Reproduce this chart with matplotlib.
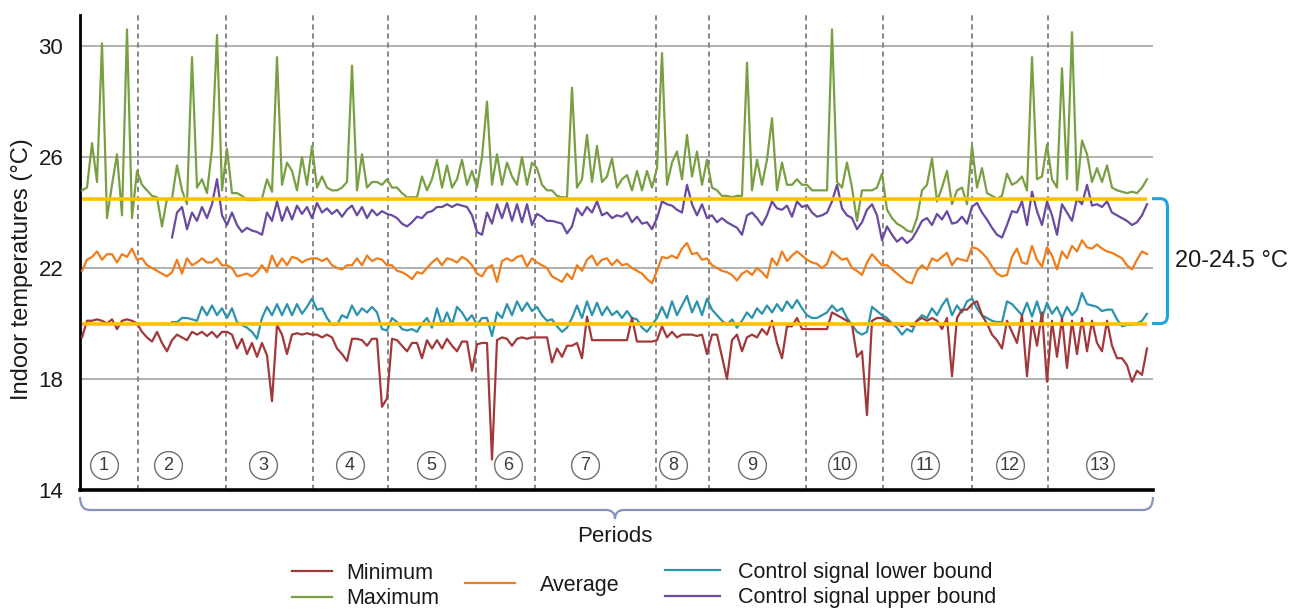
import numpy as np
import matplotlib
matplotlib.use("Agg")
import matplotlib.pyplot as plt
from matplotlib.path import Path
from matplotlib.patches import PathPatch
import matplotlib.transforms as mtransforms

plt.rcParams['font.family'] = ['Liberation Sans', 'DejaVu Sans']

nan = np.nan

# ---------------- data (one sample every ~ equal time step) ----------------
t_max = [24.8, 24.9, 26.5, 25.1, 30.1, 23.8, 25.0, 26.1, 23.9, 30.6, 23.8, 25.5,
         25.0, 24.8, 24.6, 24.55, 23.5, 24.5, 24.5, 25.7, 24.8, 24.3, 29.6, 24.9, 25.2, 24.7, 26.3, 30.4, 24.8,
         26.3, 24.7, 24.7, 24.6, 24.45, 24.45, 24.45, 24.5, 25.2, 24.75, 29.6, 25.0, 25.8, 25.5, 24.8, 26.0, 25.0, 26.4,
         24.9, 25.3, 24.9, 24.8, 24.8, 24.9, 25.1, 29.3, 24.8, 26.1, 24.9, 25.1, 25.1, 25.0, 25.2,
         24.9, 24.9, 24.7, 24.55, 24.55, 24.55, 25.3, 24.8, 25.2, 25.9, 24.9, 25.7, 24.9, 25.2, 25.9, 25.0, 25.5,
         24.9, 26.0, 28.0, 25.0, 26.1, 25.0, 25.8, 25.3, 25.0, 26.0, 25.0, 25.8,
         25.6, 25.0, 24.8, 24.8, 24.6, 24.55, 24.55, 28.5, 24.9, 25.2, 26.8, 25.1, 26.4, 25.1, 25.3, 25.95,
         24.9, 25.2, 25.35, 24.8, 25.5, 24.8, 25.5, 24.9,
         25.6, 29.75, 25.0, 25.8, 26.2, 25.2, 26.8, 25.3, 26.2, 25.0, 25.9,
         24.9, 24.8, 24.6, 24.6, 24.55, 24.6, 24.6, 29.4, 24.8, 25.9, 25.0, 25.9, 27.4, 24.8, 25.8, 25.0, 25.0, 25.2, 25.0,
         25.0, 24.8, 24.8, 24.8, 24.8, 30.6, 25.1, 24.9, 25.8, 24.9, 23.7, 24.8, 24.8, 24.8, 24.9, 25.4,
         24.1, 23.8, 23.6, 23.5, 23.35, 23.3, 23.8, 24.8, 25.0, 25.95, 24.4, 24.9, 25.5, 24.3, 24.8, 24.9, 24.3,
         26.4, 24.9, 25.6, 24.7, 24.6, 24.5, 24.6, 25.4, 25.0, 25.1, 25.3, 24.8, 29.6, 25.2, 25.3, 26.45,
         25.2, 24.9, 29.2, 25.2, 30.5, 24.8, 26.6, 26.1, 25.1, 25.6, 25.1, 25.7, 24.9, 24.8, 24.75, 24.7,
         24.75, 24.7, 24.9, 25.2]

t_min = [19.5, 20.1, 20.1, 20.15, 20.1, 20.0, 20.15, 19.8, 20.1, 20.15, 20.1, 20.0,
         19.7, 19.5, 19.35, 19.7, 19.3, 19.0, 19.4, 19.6, 19.5, 19.4, 19.7, 19.6, 19.7, 19.55, 19.7, 19.5, 19.7,
         19.7, 19.6, 19.1, 19.45, 18.9, 19.3, 18.8, 19.3, 18.85, 17.2, 19.95, 19.6, 18.9, 19.6, 19.65, 19.6, 19.65, 19.6,
         19.6, 19.5, 19.6, 19.5, 19.1, 18.9, 18.65, 19.45, 19.45, 19.4, 19.2, 19.45, 19.45, 17.0, 17.3,
         19.45, 19.4, 19.2, 19.0, 19.3, 19.3, 18.75, 19.4, 19.1, 19.4, 19.1, 19.45, 19.2, 19.0, 19.35, 19.35, 18.3,
         19.25, 19.3, 19.3, 15.1, 19.4, 19.5, 19.45, 19.2, 19.45, 19.5, 19.45, 19.5,
         19.5, 19.5, 19.5, 18.6, 19.1, 18.8, 19.2, 19.2, 19.3, 18.75, 20.25, 19.4, 19.4, 19.4, 19.4, 19.4,
         19.4, 19.4, 19.4, 20.2, 19.35, 19.35, 19.35, 19.35,
         19.4, 19.9, 19.5, 19.7, 19.5, 19.6, 19.6, 19.6, 19.55, 19.6, 18.9,
         19.6, 19.6, 18.8, 18.0, 19.4, 19.6, 19.0, 19.5, 19.6, 19.5, 19.8, 19.6, 20.1, 19.3, 18.75, 19.9, 19.9, 20.2, 19.8,
         19.8, 19.8, 19.8, 19.8, 19.8, 20.4, 20.3, 20.2, 20.1, 19.95, 18.8, 19.0, 16.7, 20.1, 20.2, 20.2,
         20.1, 20.0, 20.0, 19.9, 20.0, 19.9, 20.1, 20.2, 20.1, 20.2, 20.1, 19.8, 20.2, 18.1, 20.2, 20.5, 20.5,
         20.7, 20.8, 20.3, 20.0, 19.6, 19.4, 19.1, 20.1, 19.7, 19.3, 20.3, 18.1, 20.1, 19.2, 20.4, 17.9,
         20.1, 18.8, 20.2, 18.4, 20.1, 18.9, 20.2, 19.0, 20.1, 19.3, 19.0, 20.1, 19.2, 18.75, 18.75, 18.5,
         17.9, 18.3, 18.15, 19.1]

t_avg = [21.9, 22.3, 22.4, 22.6, 22.3, 22.5, 22.5, 22.2, 22.5, 22.4, 22.7, 22.3,
         22.35, 22.1, 22.0, 21.9, 21.8, 21.7, 21.85, 22.3, 21.8, 22.35, 22.1, 22.2, 22.35, 22.2, 22.2, 22.35, 22.1,
         22.1, 22.0, 21.7, 21.75, 21.8, 21.7, 21.85, 22.1, 21.85, 22.45, 22.05, 22.35, 22.1, 22.4, 22.35, 22.2, 22.3, 22.35,
         22.35, 22.25, 22.35, 22.1, 22.0, 21.95, 22.1, 22.1, 22.35, 22.1, 22.45, 22.25, 22.35, 22.3, 22.1,
         22.1, 21.9, 21.85, 21.75, 21.6, 21.85, 21.8, 22.0, 22.2, 22.35, 22.1, 22.35, 22.3, 22.2, 22.4, 22.3, 22.1,
         21.8, 21.7, 22.0, 22.1, 21.5, 22.25, 22.35, 22.25, 22.4, 22.45, 22.05, 22.35,
         22.2, 22.1, 22.0, 21.7, 21.6, 21.5, 21.8, 21.6, 22.1, 21.9, 22.3, 22.45, 22.1, 22.3, 22.35, 22.1,
         22.3, 22.1, 22.15, 22.0, 21.9, 21.8, 21.6, 21.45,
         21.9, 22.4, 22.35, 22.45, 22.35, 22.7, 22.9, 22.5, 22.55, 22.3, 22.35,
         22.1, 22.0, 21.9, 21.85, 21.75, 21.55, 21.8, 21.9, 21.75, 22.0, 21.85, 21.65, 22.35, 22.1, 22.6, 22.25, 22.45, 22.6, 22.45,
         22.3, 22.2, 22.15, 22.0, 22.15, 22.6, 22.45, 22.3, 22.35, 22.0, 21.9, 21.75, 22.2, 22.5, 22.3, 22.1,
         22.1, 21.95, 21.8, 21.65, 21.5, 21.45, 21.9, 22.1, 21.95, 22.35, 22.25, 22.4, 22.55, 22.1, 22.35, 22.3, 22.25,
         22.75, 22.7, 22.55, 22.35, 22.05, 21.8, 21.7, 21.75, 22.4, 22.7, 22.2, 22.15, 22.8, 22.3, 22.05, 22.75,
         22.45, 21.95, 22.6, 22.35, 22.8, 22.6, 23.0, 22.75, 22.7, 22.85, 22.7, 22.6, 22.55, 22.45, 22.35, 22.1,
         21.95, 22.3, 22.6, 22.5]

ctrl_upper = [nan] * 18 + [
         23.1, 24.0, 24.2, 23.4, 24.0, 23.7, 24.2, 23.8, 24.3, 25.2, 23.9,
         23.55, 24.0, 23.55, 23.3, 23.45, 23.35, 23.3, 23.2, 24.0, 23.7, 24.4, 23.7, 24.2, 23.75, 24.25, 23.95, 24.2, 23.8,
         24.35, 24.0, 24.15, 23.95, 24.1, 23.85, 24.1, 24.25, 23.9, 24.2, 23.8, 24.1, 23.9, 24.05, 23.95,
         23.9, 23.8, 23.6, 23.5, 23.65, 23.85, 23.8, 24.0, 24.05, 24.2, 24.2, 24.3, 24.2, 24.3, 24.25, 24.2, 23.9,
         23.3, 23.2, 24.0, 23.6, 24.3, 23.8, 24.35, 23.7, 24.3, 23.65, 24.3, 23.55,
         23.95, 23.85, 23.7, 23.7, 23.65, 23.6, 23.25, 23.5, 24.15, 23.9, 24.2, 24.0, 24.4, 23.9, 24.0, 23.8,
         23.9, 23.85, 24.0, 23.65, 23.85, 23.6, 23.65, 23.4,
         23.8, 24.4, 24.3, 24.25, 24.1, 24.0, 25.0, 24.3, 23.9, 24.3, 23.8,
         23.9, 23.65, 23.8, 23.65, 23.55, 23.45, 23.2, 23.9, 24.0, 23.8, 23.55, 23.9, 24.4, 24.15, 24.1, 24.25, 23.85, 24.4, 24.2,
         24.27, 24.0, 23.85, 23.9, 24.0, 24.4, 25.0, 24.15, 23.9, 23.8, 23.4, 23.65, 24.1, 24.3, 23.9, 23.0,
         23.5, 23.2, 22.95, 23.1, 22.9, 23.05, 23.35, 23.7, 23.8, 23.55, 23.95, 23.75, 24.05, 23.6, 23.65, 23.85, 23.6,
         24.2, 24.35, 24.0, 23.75, 23.45, 23.2, 23.1, 23.55, 24.05, 24.0, 24.4, 23.55, 24.75, 24.05, 23.55, 24.4,
         23.9, 23.2, 24.3, 24.0, 23.7, 24.5, 24.3, 25.0, 24.25, 24.3, 24.2, 24.4, 24.0, 23.9, 23.8, 23.7,
         23.55, 23.65, 23.9, 24.3]

ctrl_lower = [nan] * 18 + [
         20.05, 20.05, 20.2, 20.2, 20.15, 20.1, 20.6, 20.3, 20.65, 20.3, 20.55,
         20.2, 20.55, 20.05, 19.95, 19.85, 19.7, 19.45, 20.2, 20.6, 20.3, 20.7, 20.3, 20.7, 20.3, 20.7, 20.35, 20.6, 20.9,
         20.5, 20.55, 20.2, 19.95, 19.95, 20.3, 20.2, 20.65, 20.3, 20.55, 20.4, 20.6, 20.4, 19.8, 19.75,
         20.2, 20.05, 19.8, 19.75, 19.8, 19.7, 20.0, 20.2, 19.85, 20.55, 19.95, 20.4, 19.95, 20.6, 20.4, 20.1, 20.3,
         19.95, 20.2, 20.2, 19.55, 20.4, 20.2, 20.7, 20.3, 20.8, 20.45, 20.75, 20.45,
         20.6, 20.3, 20.1, 20.15, 19.9, 19.7, 19.85, 20.2, 20.65, 20.2, 20.8, 20.3, 20.75, 20.3, 20.6, 20.3,
         20.45, 20.2, 20.45, 20.2, 20.15, 19.85, 19.7, 19.95,
         20.2, 20.6, 20.2, 20.8, 20.3, 20.65, 21.0, 20.4, 20.8, 20.3, 20.9,
         20.5, 20.3, 20.1, 19.95, 20.15, 19.85, 20.1, 20.4, 20.2, 20.55, 20.35, 20.65, 20.4, 20.7, 20.45, 20.8, 20.55, 20.85, 20.55,
         20.3, 20.2, 20.2, 20.3, 20.4, 20.65, 20.45, 20.55, 20.2, 19.95, 19.7, 19.6, 19.7, 20.6, 20.45, 20.3,
         20.2, 20.0, 19.85, 19.6, 19.8, 19.7, 20.1, 20.3, 20.2, 20.55, 20.3, 20.65, 20.9, 20.3, 20.65, 20.4, 20.8,
         20.9, 20.55, 20.3, 20.2, 20.1, 20.05, 20.05, 20.8, 20.7, 20.5, 20.3, 20.75, 20.25, 20.8, 20.2, 20.75,
         20.35, 20.6, 20.2, 20.6, 20.3, 20.5, 21.1, 20.7, 20.65, 20.6, 20.45, 20.5, 20.5, 20.15, 19.9, 19.95,
         19.95, 20.0, 20.1, 20.35]

comfort_low, comfort_high = 20.0, 24.5
period_bounds = [11.2, 28.8, 46.2, 61.2, 78.8, 90.6, 114.8, 125.4, 144.8, 160.2, 178.0, 193.2]
period_labels = [str(i) for i in range(1, 14)]
period_label_x = [4.4, 17.2, 36.2, 53.6, 69.8, 85.2, 100.6, 118.2, 134.0, 152.0, 168.6, 185.6, 203.6]
y_ticks = [14, 18, 22, 26, 30]

# ---------------- figure ----------------
W, H = 1306, 610
fig = plt.figure(figsize=(W / 100, H / 100), dpi=100)
ax = fig.add_axes([80 / W, 120 / H, 1073 / W, 475 / H])

C_MIN = '#A3383A'
C_MAX = '#78A042'
C_AVG = '#EF7D1C'
C_LOW = '#2C93AC'
C_UP = '#6A4AA0'
C_YEL = '#FFC000'

t = np.arange(len(t_max))
lw = 1.6
l_low, = ax.plot(np.arange(len(ctrl_lower)), ctrl_lower, color=C_LOW, lw=lw, zorder=3,
                 label='Control signal lower bound')
l_up, = ax.plot(np.arange(len(ctrl_upper)), ctrl_upper, color=C_UP, lw=lw, zorder=3,
                label='Control signal upper bound')
l_avg, = ax.plot(np.arange(len(t_avg)), t_avg, color=C_AVG, lw=lw, zorder=3, label='Average')
l_max, = ax.plot(t, t_max, color=C_MAX, lw=lw, zorder=3.2, label='Maximum')
l_min, = ax.plot(np.arange(len(t_min)), t_min, color=C_MIN, lw=lw, zorder=3.3, label='Minimum')

ax.hlines([comfort_low, comfort_high], t[0], t[-1], colors=C_YEL, lw=2.6, zorder=4)

for b in period_bounds:
    ax.axvline(b, color='#7A7A7A', lw=1.25, ls=(0, (3, 2.2)), zorder=2)

ax.set_xlim(-0.4, 214.2)
ax.set_ylim(14, 31.12)
ax.set_xticks([])
ax.set_yticks(y_ticks)
ax.yaxis.grid(True, color='#A3A3A3', lw=1.2)
ax.set_axisbelow(True)
ax.tick_params(axis='y', length=0, pad=12, labelsize=16, colors='#1a1a1a')
for s in ('top', 'right'):
    ax.spines[s].set_visible(False)
ax.spines['left'].set_linewidth(2.0)
ax.spines['bottom'].set_linewidth(2.6)
ax.spines['left'].set_color('black')
ax.spines['bottom'].set_color('black')

ax.set_ylabel('Indoor temperatures (°C)', fontsize=17, color='#1a1a1a')
ax.yaxis.set_label_coords(-0.0438, 0.465)

# circled period numbers
label_y = 14.9
ax.plot(period_label_x, [label_y] * len(period_label_x), ls='none', marker='o', ms=20,
        mfc='none', mec='#6E6E6E', mew=1.0, zorder=5, clip_on=False)
for xp, lab in zip(period_label_x, period_labels):
    ax.text(xp, label_y, lab, ha='center', va='center', fontsize=13, color='#3A3A3A', zorder=6)

# right bracket (20-24.5 °C)
btr = mtransforms.blended_transform_factory(ax.transAxes, ax.transData)
x0, x1, x2 = 0.9991, 1.0070, 1.0135
verts = [(x0, comfort_high), (x1, comfort_high), (x2, comfort_high), (x2, comfort_high - 0.3),
         (x2, comfort_low + 0.3), (x2, comfort_low), (x1, comfort_low), (x0, comfort_low)]
codes = [Path.MOVETO, Path.LINETO, Path.CURVE3, Path.CURVE3, Path.LINETO, Path.CURVE3, Path.CURVE3, Path.LINETO]
ax.add_patch(PathPatch(Path(verts, codes), transform=btr, fill=False, ec='#1EA5E0', lw=2.2, clip_on=False))
ax.text(1.0205, (comfort_low + comfort_high) / 2, '20-24.5 °C', transform=btr, ha='left', va='center',
        fontsize=17, color='#1a1a1a')

# bottom brace (in figure pixels, y measured from top)
ptr = mtransforms.Affine2D().scale(1 / W, -1 / H).translate(0, 1) + fig.transFigure
bv = [(80, 497), (80, 510), (90, 510), (606, 510), (615, 510), (615, 519),
      (615, 510), (624, 510), (1143, 510), (1153, 510), (1153, 497)]
bc = [Path.MOVETO, Path.CURVE3, Path.CURVE3, Path.LINETO, Path.CURVE3, Path.CURVE3,
      Path.CURVE3, Path.CURVE3, Path.LINETO, Path.CURVE3, Path.CURVE3]
fig.patches.append(PathPatch(Path(bv, bc), transform=ptr, fill=False, ec='#8494BC', lw=1.6))
fig.text(615 / W, 1 - 536 / H, 'Periods', ha='center', va='center', fontsize=16, color='#1a1a1a')

# legends
common = dict(frameon=False, borderpad=0, borderaxespad=0, fontsize=15.5, loc='center left',
              labelcolor='#1a1a1a')
fig.legend(handles=[l_min, l_max], bbox_to_anchor=(292 / W, 1 - 586 / H), handlelength=1.86,
           handletextpad=0.65, labelspacing=0.2, **common)
fig.legend(handles=[l_avg], bbox_to_anchor=(465 / W, 1 - 585 / H), handlelength=2.33,
           handletextpad=1.16, **common)
fig.legend(handles=[l_low, l_up], bbox_to_anchor=(665 / W, 1 - 585 / H), handlelength=2.56,
           handletextpad=0.84, labelspacing=0.2, **common)

fig.savefig('out.png', dpi=100)
